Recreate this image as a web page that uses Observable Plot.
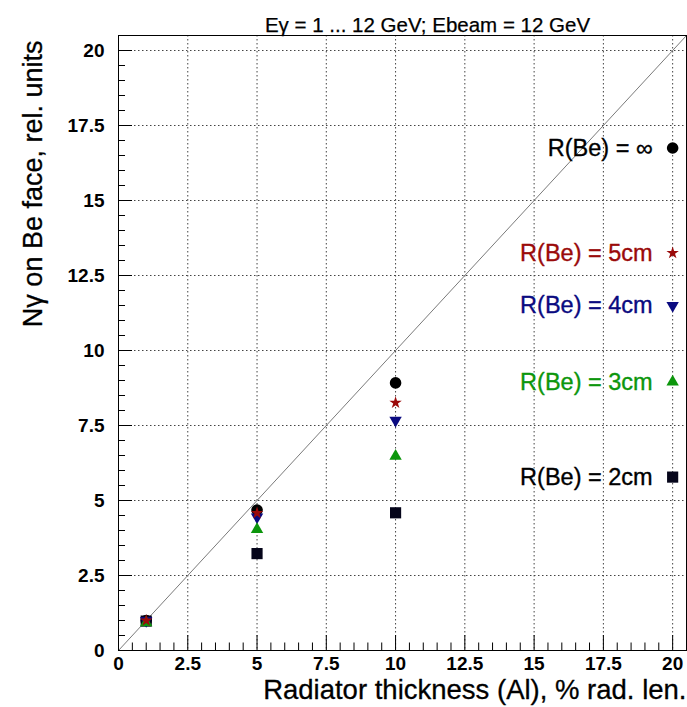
<!DOCTYPE html>
<html>
<head>
<meta charset="utf-8">
<script src="https://cdn.jsdelivr.net/npm/d3@7"></script>
<script src="https://cdn.jsdelivr.net/npm/@observablehq/plot@0.6"></script>
<style>
  html, body { margin: 0; padding: 0; background: #fff; }
  svg { display: block; }
</style>
</head>
<body>
<div id="chart"></div>
<script>
// Radiator thickness (Al), % radiation length
const thickness = [1, 5, 10];

// Photon yield on the Be face (relative units) for each Be radius
const nInf = [1.0, 4.68, 8.92];
const n5cm = [1.0, 4.58, 8.26];
const n4cm = [1.0, 4.45, 7.67];
const n3cm = [0.93, 4.04, 6.48];
const n2cm = [0.98, 3.23, 4.59];

// Legend entries: text and the y value of each legend marker (drawn at x = 20)
const seriesLabels = ["R(Be) = \u221E", "R(Be) = 5cm", "R(Be) = 4cm", "R(Be) = 3cm", "R(Be) = 2cm"];
const legendY = [16.75, 13.25, 11.5, 8.95, 5.78];
const legendX = 20;

// Axis ticks
const xTicks = [0, 2.5, 5, 7.5, 10, 12.5, 15, 17.5, 20];
const yTicks = [0, 2.5, 5, 7.5, 10, 12.5, 15, 17.5, 20];
const xMinor = d3.range(0, 20.01, 0.5).filter(v => !xTicks.includes(v));
const yMinor = d3.range(0, 20.01, 0.5).filter(v => !yTicks.includes(v));
const axisMax = 20.5;

const titleText = "E\u03B3 = 1 ... 12 GeV; Ebeam = 12 GeV";
const xTitle = "Radiator thickness (Al), % rad. len.";
const yTitle = "N\u03B3 on Be face, rel. units";

// Marker styles per series (same order as the value arrays)
const seriesValues = [nInf, n5cm, n4cm, n3cm, n2cm];
const styles = [
  {symbol: "circle",   fill: "#000000", r: 5.8, rotate: 0,   text: "#000000"},
  {symbol: "star",     fill: "#9a0a0a", r: 3.9, rotate: 0,   text: "#9a0a0a"},
  {symbol: "triangle", fill: "#0a0a80", r: 4.6, rotate: 180, text: "#0a0a80"},
  {symbol: "triangle", fill: "#0c960c", r: 4.6, rotate: 0,   text: "#0c960c"},
  {symbol: "square",   fill: "#05051a", r: 6.3, rotate: 0,   text: "#000000"}
];
// drawing order: circle, square, down-triangle, up-triangle, star on top
const drawOrder = [0, 4, 2, 3, 1];

const W = 687, H = 707;
const mL = 118, mR = 1, mT = 35, mB = 57;
const frameW = W - mL - mR, frameH = H - mT - mB;

const font = "'Liberation Sans', Arial, Helvetica, sans-serif";

const pointMarks = drawOrder.map(i => {
  const s = styles[i];
  const rows = thickness.map((t, j) => ({x: t, y: seriesValues[i][j]}));
  rows.push({x: legendX, y: legendY[i]});
  return Plot.dot(rows, {
    x: "x", y: "y", symbol: () => s.symbol, fill: s.fill, stroke: "none",
    r: s.r, rotate: s.rotate
  });
});

const legendRows = seriesLabels.map((label, i) => ({label, y: legendY[i], color: styles[i].text}));

const chart = Plot.plot({
  width: W,
  height: H,
  marginLeft: mL,
  marginRight: mR,
  marginTop: mT,
  marginBottom: mB,
  x: {domain: [0, axisMax], axis: null},
  y: {domain: [0, axisMax], axis: null},
  symbol: {type: "identity"},
  style: {fontFamily: font, background: "#fff", color: "#000"},
  marks: [
    // dotted grid at major ticks
    Plot.ruleX(xTicks.filter(v => v > 0), {x: d => d, stroke: "#444", strokeWidth: 1, strokeDasharray: "1.5,2.5"}),
    Plot.ruleY(yTicks.filter(v => v > 0), {y: d => d, stroke: "#444", strokeWidth: 1, strokeDasharray: "1.5,2.5"}),
    // reference line N = thickness
    Plot.line([0, axisMax], {x: d => d, y: d => d, stroke: "#7a7a7a", strokeWidth: 1}),
    // inward ticks along the bottom
    Plot.tickX(xTicks, {x: d => d, insetTop: frameH - 15, stroke: "#000"}),
    Plot.tickX(xMinor, {x: d => d, insetTop: frameH - 7.5, stroke: "#000"}),
    // inward ticks along the left side
    Plot.tickY(yTicks, {y: d => d, insetRight: frameW - 14, stroke: "#000"}),
    Plot.tickY(yMinor, {y: d => d, insetRight: frameW - 7, stroke: "#000"}),
    // tick labels
    Plot.axisX({ticks: xTicks, tickSize: 0, tickPadding: 6, fontSize: 19, fontWeight: "bold",
      tickFormat: d => String(d), label: null}),
    Plot.axisY({ticks: yTicks, tickSize: 0, tickPadding: 14, fontSize: 19, fontWeight: "bold",
      tickFormat: d => String(d), label: null}),
    ...pointMarks,
    // legend labels
    Plot.text(legendRows, {x: () => legendX, y: "y", text: "label", fill: "color",
      textAnchor: "end", dx: -20, fontSize: 23.5, stroke: "color", strokeWidth: 0.35}),
    Plot.frame({stroke: "#000", strokeWidth: 1}),
    // titles
    Plot.text([titleText], {frameAnchor: "top", text: d => d, dx: 25, dy: -18, fontSize: 20.5,
      fill: "#000", stroke: "#000", strokeWidth: 0.25}),
    Plot.text([xTitle], {frameAnchor: "bottom-right", text: d => d, textAnchor: "end",
      dy: 48, fontSize: 27.5, fill: "#000", stroke: "#000", strokeWidth: 0.3}),
    Plot.text([yTitle], {frameAnchor: "top-left", text: d => d, textAnchor: "end", rotate: -90,
      dx: -96, dy: 5, fontSize: 27, fill: "#000", stroke: "#000", strokeWidth: 0.3})
  ]
});

document.getElementById("chart").appendChild(chart);
</script>
</body>
</html>
